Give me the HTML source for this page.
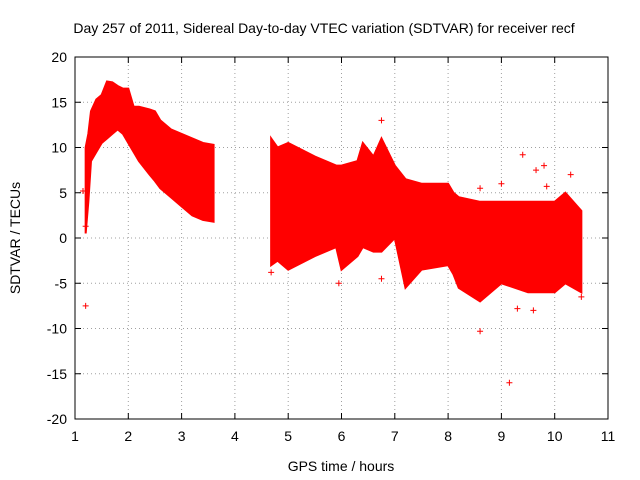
<!DOCTYPE html>
<html><head><meta charset="utf-8">
<style>
html,body{margin:0;padding:0;background:#fff;}
svg{display:block;font-family:"Liberation Sans",sans-serif;}
</style></head>
<body>
<svg id="chart" width="640" height="480" viewBox="0 0 640 480">
<text x="324" y="33" font-size="14" text-anchor="middle">Day 257 of 2011, Sidereal Day-to-day VTEC variation (SDTVAR) for receiver recf</text>
<g id="grid"></g>
<g id="marks"></g>
<rect x="75" y="57" width="533" height="362" fill="none" stroke="#000" stroke-width="1"/>
<g id="ticks"></g>
<text transform="translate(20,238) rotate(-90)" font-size="14" text-anchor="middle">SDTVAR / TECUs</text>
<text x="341" y="471" font-size="14" text-anchor="middle">GPS time / hours</text>
</svg>
<script>
const xTicks=[1,2,3,4,5,6,7,8,9,10,11];
const yTicks=[-20,-15,-10,-5,0,5,10,15,20];
const seg1Time=[1.2,1.25,1.3,1.4,1.5,1.6,1.7,1.8,1.9,2.0,2.1,2.2,2.4,2.5,2.6,2.8,3.0,3.2,3.4,3.6];
const seg1Upper=[10,11.5,14,15.3,15.8,17.3,17.2,16.8,16.5,16.5,14.5,14.5,14.2,14,13,12,11.5,11,10.5,10.3];
const seg1Lower=[0.5,4,8.5,9.5,10.5,11,11.5,12,11.5,10.5,9.5,8.5,7,6.3,5.5,4.5,3.5,2.5,2,1.8];
const seg2Time=[4.68,4.8,5.0,5.5,5.9,6.0,6.3,6.4,6.6,6.75,7.0,7.2,7.5,8.0,8.1,8.2,8.6,9.0,9.5,10.0,10.2,10.5];
const seg2Upper=[11,10,10.5,9,8,8,8.5,10.5,9,11,8,6.5,6,6,5,4.5,4,4,4,4,5,3];
const seg2Lower=[-3,-2.5,-3.5,-2,-1,-3.5,-2,-1,-1.5,-1.5,0,-5.5,-3.5,-3,-4,-5.5,-7,-5,-6,-6,-5,-6];
const outTime=[1.15,1.2,1.2,4.68,5.95,9.15,9.3,9.6,9.4,9.8,9.65,10.3,9.85,8.6,6.75,10.5,6.75,8.6,9.0];
const outVal=[5.2,-7.5,1.3,-3.8,-5,-16,-7.8,-8,9.2,8,7.5,7,5.7,-10.3,13,-6.5,-4.5,5.5,6];
const X0=75,X1=608,Y0=419,Y1=57;
const sx=v=>X0+(v-1)/10*(X1-X0);
const sy=v=>Y0-(v+20)/40*(Y0-Y1);
const NS="http://www.w3.org/2000/svg";
const grid=document.getElementById('grid'),ticks=document.getElementById('ticks'),marks=document.getElementById('marks');
function mk(tag,attrs,parent){const e=document.createElementNS(NS,tag);for(const k in attrs)e.setAttribute(k,attrs[k]);parent.appendChild(e);return e;}
xTicks.forEach(t=>{const x=sx(t);
 if(t>1&&t<11){const l=mk('line',{x1:x,x2:x,y1:Y1,y2:Y0,stroke:'#a0a0a0','stroke-dasharray':'1,3'},grid);}
 const a=mk('line',{x1:x,x2:x,y1:Y0,y2:Y0-6,stroke:'#000'},ticks);
 const b=mk('line',{x1:x,x2:x,y1:Y1,y2:Y1+6,stroke:'#000'},ticks);
 const tx=mk('text',{x:x,y:Y0+22,'font-size':14,'text-anchor':'middle'},ticks);tx.textContent=t;
 });
yTicks.forEach(t=>{const y=sy(t);
 if(t>-20&&t<20){const l=mk('line',{x1:X0,x2:X1,y1:y,y2:y,stroke:'#a0a0a0','stroke-dasharray':'1,3'},grid);}
 const a=mk('line',{x1:X0,x2:X0+6,y1:y,y2:y,stroke:'#000'},ticks);
 const b=mk('line',{x1:X1,x2:X1-6,y1:y,y2:y,stroke:'#000'},ticks);
 const tx=mk('text',{x:X0-8,y:y+5,'font-size':14,'text-anchor':'end'},ticks);tx.textContent=t;
 });
function band(time,up,lo,name){
 const pts=time.map((t,i)=>sx(t)+','+sy(up[i])).concat(time.map((t,i)=>sx(t)+','+sy(lo[i])).reverse());
 const p=mk('polygon',{points:pts.join(' '),fill:'#ff0000',stroke:'#ff0000','stroke-width':2},marks);
 }
band(seg1Time,seg1Upper,seg1Lower,'sdtvar-band-1');
band(seg2Time,seg2Upper,seg2Lower,'sdtvar-band-2');
outTime.forEach((t,i)=>{const x=sx(t),y=sy(outVal[i]);
 const p=mk('path',{d:`M${x-3},${y}H${x+3}M${x},${y-3}V${y+3}`,stroke:'#ff0000','stroke-width':1},marks);
 });
</script>
</body></html>
